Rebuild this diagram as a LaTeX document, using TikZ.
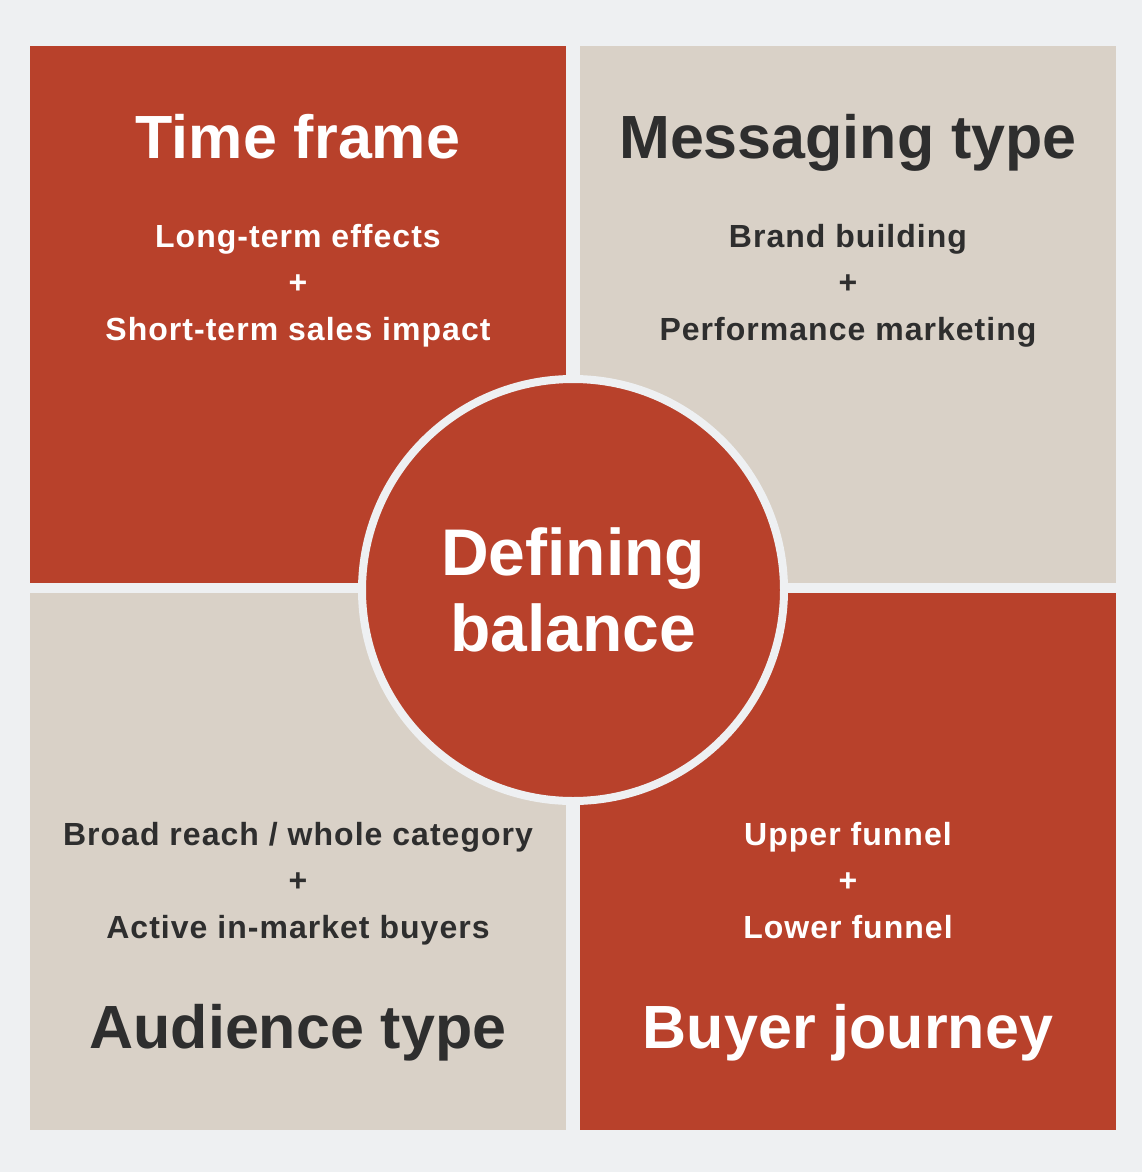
\documentclass[tikz,border=0pt]{standalone}
\usepackage{fontspec}
\setmainfont{Liberation Sans}
\newfontfamily\subfont{Liberation Sans}[LetterSpace=3.2]
\usetikzlibrary{positioning}

\definecolor{pagegray}{HTML}{EEF0F2}
\definecolor{brickred}{HTML}{B8412B}
\definecolor{sandbeige}{HTML}{D9D1C7}
\definecolor{inkgray}{HTML}{2E2E2E}

\begin{document}
\begin{tikzpicture}
[
    x=1pt, y=-1pt,
    quadrant/.style={rectangle, inner sep=0pt, minimum width=536pt, minimum height=537pt},
    headline/.style={anchor=base, inner sep=0pt, font=\bfseries\fontsize{61}{72}\selectfont},
    subline/.style={anchor=base, inner sep=0pt, font=\subfont\bfseries\fontsize{32}{38}\selectfont},
    hub/.style={circle, fill=brickred, draw=pagegray, line width=8pt, minimum size=422pt,
        inner sep=0pt, align=center, text=white, font=\bfseries\fontsize{66}{76}\selectfont},
]
% page
\fill [pagegray] (0,0) rectangle (1142,1172);
\useasboundingbox (0,0) rectangle (1142,1172);

% the four quarters
\node [quadrant, fill=brickred] (timeq) at (298,314.5) {};
\node [quadrant, fill=sandbeige] (messq) at (848,314.5) {};
\node [quadrant, fill=sandbeige] (audq) at (298,861.5) {};
\node [quadrant, fill=brickred] (buyq) at (848,861.5) {};

% time frame
\node [headline, text=white] (timehead) at (298,158) {Time frame};
\node [subline, text=white] (timeA) at (298,247) {Long-term effects};
\node [subline, text=white] (timeplus) at (298,293.5) {+};
\node [subline, text=white] (timeB) at (298,340) {Short-term sales impact};

% messaging type
\node [headline, text=inkgray] (messhead) at (848,158) {Messaging type};
\node [subline, text=inkgray] (messA) at (848,247) {Brand building};
\node [subline, text=inkgray] (messplus) at (848,293.5) {+};
\node [subline, text=inkgray] (messB) at (848,340) {Performance marketing};

% audience type
\node [subline, text=inkgray] (audA) at (298,845) {Broad reach / whole category};
\node [subline, text=inkgray] (audplus) at (298,891.5) {+};
\node [subline, text=inkgray] (audB) at (298,938) {Active in-market buyers};
\node [headline, text=inkgray] (audhead) at (298,1048) {Audience type};

% buyer journey
\node [subline, text=white] (buyA) at (848,845) {Upper funnel};
\node [subline, text=white] (buyplus) at (848,891.5) {+};
\node [subline, text=white] (buyB) at (848,938) {Lower funnel};
\node [headline, text=white] (buyhead) at (848,1048) {Buyer journey};

% centre
\node [hub] (balance) at (573,590) {Defining\\balance};
\end{tikzpicture}
\end{document}
